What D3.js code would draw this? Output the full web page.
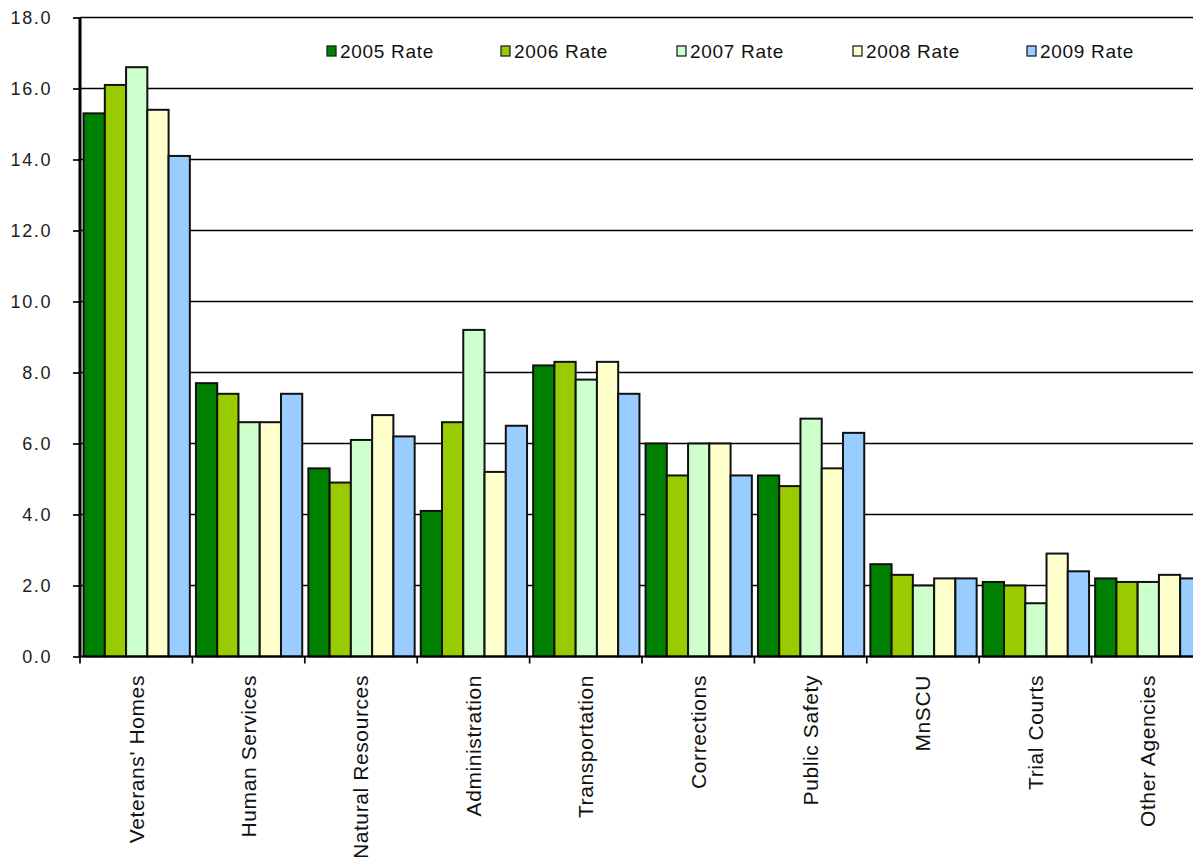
<!DOCTYPE html>
<html>
<head>
<meta charset="utf-8">
<script src="https://cdn.jsdelivr.net/npm/d3@7"></script>
<style>
  html, body { margin: 0; padding: 0; background: #fff; overflow: hidden; }
  svg { display: block; font-family: "Liberation Sans", Arial, sans-serif; }
</style>
</head>
<body>
<svg id="chart" width="1193" height="857"></svg>
<script>
const categories = ["Veterans' Homes", "Human Services", "Natural Resources", "Administration",
  "Transportation", "Corrections", "Public Safety", "MnSCU", "Trial Courts", "Other Agencies"];
const seriesNames = ["2005 Rate", "2006 Rate", "2007 Rate", "2008 Rate", "2009 Rate"];
const rate2005 = [15.3, 7.7, 5.3, 4.1, 8.2, 6.0, 5.1, 2.6, 2.1, 2.2];
const rate2006 = [16.1, 7.4, 4.9, 6.6, 8.3, 5.1, 4.8, 2.3, 2.0, 2.1];
const rate2007 = [16.6, 6.6, 6.1, 9.2, 7.8, 6.0, 6.7, 2.0, 1.5, 2.1];
const rate2008 = [15.4, 6.6, 6.8, 5.2, 8.3, 6.0, 5.3, 2.2, 2.9, 2.3];
const rate2009 = [14.1, 7.4, 6.2, 6.5, 7.4, 5.1, 6.3, 2.2, 2.4, 2.2];
const yTicks = [0, 2, 4, 6, 8, 10, 12, 14, 16, 18];
const colors = ["#008000", "#99cc00", "#ccffcc", "#ffffcc", "#99ccff"];

const seriesValues = [rate2005, rate2006, rate2007, rate2008, rate2009];

const svg = d3.select("#chart");
const plotLeft = 80, plotRight = 1204, plotTop = 17.5, plotBottom = 656.5;

const x0 = d3.scaleBand().domain(categories).range([plotLeft, plotRight]).paddingInner(0).paddingOuter(0);
const x1 = d3.scaleBand().domain(seriesNames).range([1, x0.bandwidth()]).paddingInner(0).paddingOuter(0.12);
const y = d3.scaleLinear().domain([0, 18]).range([plotBottom, plotTop]);

// gridlines
svg.append("g").selectAll("line").data(yTicks.filter(d => d > 0)).join("line")
  .attr("x1", plotLeft).attr("x2", 1193)
  .attr("y1", d => y(d)).attr("y2", d => y(d))
  .attr("stroke", "#000").attr("stroke-width", 1.7);

// bars
const groups = svg.append("g").selectAll("g").data(categories).join("g")
  .attr("transform", d => `translate(${x0(d)},0)`);
groups.selectAll("rect").data((c, i) => seriesNames.map((s, j) => ({s, j, v: seriesValues[j][i]})))
  .join("rect")
  .attr("x", d => x1(d.s))
  .attr("width", x1.bandwidth())
  .attr("y", d => y(d.v))
  .attr("height", d => y(0) - y(d.v))
  .attr("fill", d => colors[d.j])
  .attr("stroke", "#111").attr("stroke-width", 2);

// y axis
const yAxis = svg.append("g").attr("transform", `translate(${plotLeft},0)`)
  .call(d3.axisLeft(y).tickValues(yTicks).tickFormat(d3.format(".1f")).tickSize(7).tickPadding(21));
yAxis.select(".domain").attr("stroke", "#000").attr("stroke-width", 3).attr("d", `M0,${plotTop}V${plotBottom}`);
yAxis.selectAll(".tick line").attr("stroke", "#000").attr("stroke-width", 1.7);
yAxis.selectAll(".tick text").attr("font-size", 18).attr("fill", "#222")
  .attr("font-family", "Liberation Sans, Arial, sans-serif").attr("letter-spacing", "1.6px");

// x axis
const boundaries = categories.map(c => x0(c)).concat([plotRight]);
svg.append("line").attr("x1", plotLeft).attr("x2", 1193).attr("y1", plotBottom).attr("y2", plotBottom)
  .attr("stroke", "#000").attr("stroke-width", 2);
svg.append("g").selectAll("line").data(boundaries).join("line")
  .attr("x1", d => d).attr("x2", d => d).attr("y1", plotBottom).attr("y2", plotBottom + 7)
  .attr("stroke", "#000").attr("stroke-width", 1.7);
svg.append("g").selectAll("text").data(categories).join("text")
  .attr("transform", d => `translate(${x0(d) + x0.bandwidth() / 2},675) rotate(-90)`)
  .attr("text-anchor", "end").attr("dy", "0.35em")
  .attr("font-size", 21).attr("letter-spacing", "0.6px").attr("fill", "#111")
  .text(d => d);

// legend
const legendX = [327, 501, 677, 853, 1027];
const legend = svg.append("g").selectAll("g").data(seriesNames).join("g")
  .attr("transform", (d, i) => `translate(${legendX[i]},46)`);
legend.append("rect").attr("width", 9).attr("height", 10)
  .attr("fill", (d, i) => colors[i]).attr("stroke", "#222").attr("stroke-width", 1.3);
legend.append("text").attr("x", 13).attr("y", 5).attr("dy", "0.35em")
  .attr("font-size", 19).attr("letter-spacing", "0.7px").attr("fill", "#111")
  .text(d => d);
</script>
</body>
</html>
